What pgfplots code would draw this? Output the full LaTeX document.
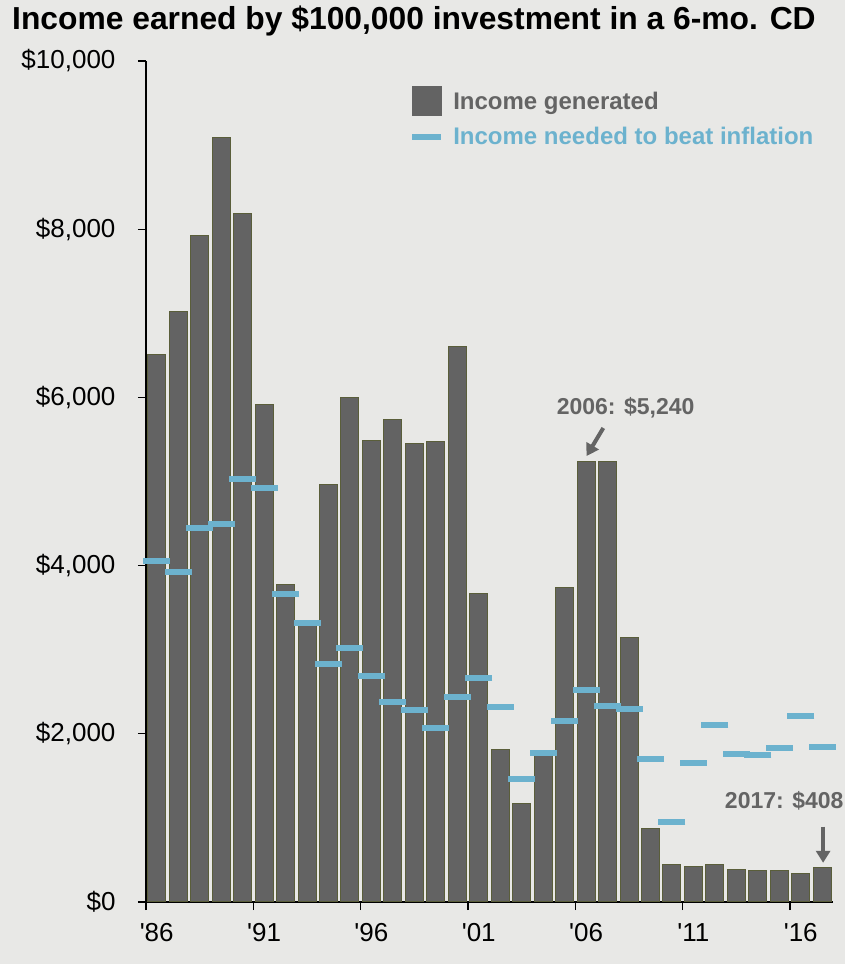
\documentclass[border=0pt]{standalone}
\usepackage{fontspec}
\setmainfont{Liberation Sans}
\usepackage{pgfplots}
\usepackage{pgfplotstable}
\pgfplotsset{compat=1.18}
\usetikzlibrary{arrows.meta}

\definecolor{bgc}{HTML}{E8E8E6}
\definecolor{barfill}{HTML}{636363}
\definecolor{baredge}{HTML}{5A5E3A}
\definecolor{dashc}{HTML}{6CB2CE}
\definecolor{annot}{HTML}{646464}

% x = bar centre (1986 at 0.5), inc = income generated, need = income needed to beat inflation
\pgfplotstableread{
x    inc   need
0.5  6510  4055
1.5  7020  3928
2.5  7920  4447
3.5  9090  4495
4.5  8185  5034
5.5  5920  4923
6.5  3770  3662
7.5  3290  3321
8.5  4965  2830
9.5  5995  3024
10.5 5485  2691
11.5 5740  2382
12.5 5455  2287
13.5 5475  2073
14.5 6605  2441
15.5 3665  2667
16.5 1810  2323
17.5 1175  1462
18.5 1740  1772
19.5 3740  2152
20.5 5240  2517
21.5 5235  2335
22.5 3145  2299
23.5 870   1704
24.5 440   955
25.5 420   1657
26.5 440   2109
27.5 388   1764
28.5 370   1748
29.5 370   1831
30.5 337   2212
31.5 408   1847
}\cddata

\begin{document}
\begin{tikzpicture}
\fill[bgc] (-146pt,-62pt) rectangle (699pt,902pt);
\begin{axis}[
    at={(0,0)}, anchor=south west,
    scale only axis, width=687pt, height=841pt,
    xmin=0, xmax=32, ymin=0, ymax=10000,
    clip=false,
    scaled y ticks=false,
    axis lines*=left,
    axis line style={line width=1.2pt, black, -},
    tick style={line width=1.2pt, black},
    tick align=outside, major tick length=8pt,
    xtick={0,5,...,30},
    xticklabels={\textquotesingle86,\textquotesingle91,\textquotesingle96,\textquotesingle01,\textquotesingle06,\textquotesingle11,\textquotesingle16},
    ytick={0,2000,...,10000},
    yticklabels={{\$0},{\$2,000},{\$4,000},{\$6,000},{\$8,000},{\$10,000}},
    ticklabel style={font=\fontsize{26}{31}\selectfont},
    xticklabel style={xshift=10.7pt, yshift=-10pt},
    yticklabel style={xshift=-19pt},
    legend style={at={(rel axis cs:0.383,0.97)}, anchor=north west,
        draw=none, fill=none, inner sep=0pt, row sep=9pt,
        font=\fontsize{24}{29}\selectfont\bfseries,
        cells={anchor=west}, nodes={inner xsep=9pt}},
]
\addplot[ybar, bar width=18pt, fill=barfill, draw=baredge, line width=1pt,
    legend image code/.code={\fill[barfill] (0pt,-14.5pt) rectangle (29pt,14.5pt);}]
    table[x=x, y=inc] {\cddata};
\addlegendentry{\textcolor{annot}{Income generated}}
\addplot[only marks, mark=-, mark size=13.5pt, mark options={line width=6pt, draw=dashc},
    legend image code/.code={\draw[dashc, line width=6pt] (0pt,0pt) -- (29pt,0pt);}]
    table[x=x, y=need] {\cddata};
\addlegendentry{\textcolor{dashc}{Income needed to beat inflation}}

\node[anchor=base, inner sep=0pt, text=annot, font=\fontsize{23}{28}\selectfont\bfseries]
    at (axis cs:22.34,5791) {2006: \$5,240};
\draw[annot, line width=4pt, -{Triangle[length=12pt, width=14pt]}]
    (axis cs:21.30,5636) -- (axis cs:20.52,5303);
\node[anchor=base west, inner sep=0pt, text=annot, font=\fontsize{23}{28}\selectfont\bfseries]
    at (axis cs:26.96,1106) {2017: \$408};
\draw[annot, line width=4pt, -{Triangle[length=12pt, width=14pt]}]
    (axis cs:31.54,895) -- (axis cs:31.54,466);
\end{axis}
\node[anchor=base west, inner sep=0pt, font=\fontsize{31.8}{36}\selectfont\bfseries]
    at (-134pt,872pt) {Income earned by \$100,000 investment in a 6-mo. CD};
\pgfresetboundingbox
\path[use as bounding box] (-146pt,-62pt) rectangle (699pt,902pt);
\end{tikzpicture}
\end{document}
